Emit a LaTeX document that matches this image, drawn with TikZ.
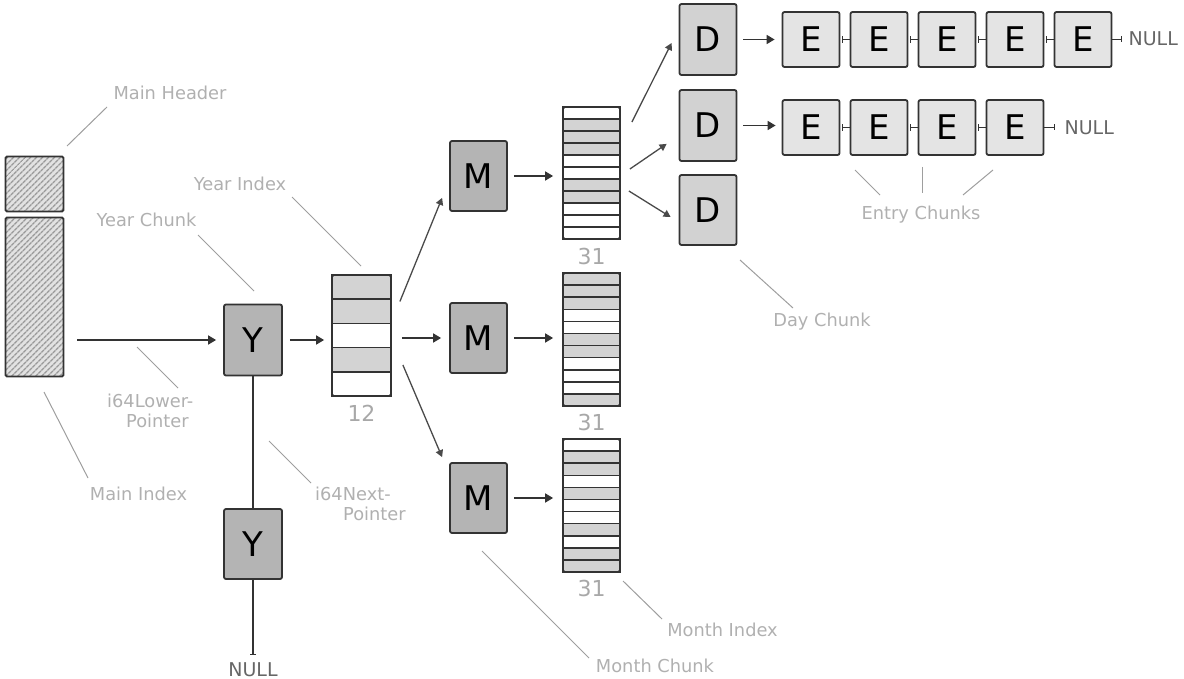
\documentclass[tikz,border=0pt]{standalone}
\usepackage{fontspec}
\setmainfont{DejaVu Sans}
\usetikzlibrary{arrows.meta,patterns.meta,calc}

\definecolor{edge}{HTML}{333333}
\definecolor{ychunk}{HTML}{B4B4B4}
\definecolor{dchunk}{HTML}{D2D2D2}
\definecolor{echunk}{HTML}{E4E4E4}
\definecolor{slot}{HTML}{D3D3D3}
\definecolor{note}{HTML}{B0B0B0}
\definecolor{leader}{HTML}{9E9E9E}
\definecolor{count}{HTML}{A8A8A8}
\definecolor{nulltext}{HTML}{666666}
\definecolor{hatchbg}{HTML}{E2E2E2}
\definecolor{hatchln}{HTML}{999999}
\definecolor{diag}{HTML}{4A4A4A}

% rows of an index block: left x, top y, width, row height, list of fills
\newcommand\slotrows[5]{%
  \foreach \f [count=\i from 0] in {#5} {%
    \draw[rowline, fill=\f] (#1,{#2+\i*#4}) rectangle ++(#3,#4);
  }%
}

\begin{document}
\begin{tikzpicture}[x=1pt,y=-1pt,
  chunk/.style={draw=edge, line width=1.8pt, rounded corners=2pt, inner sep=0pt,
    minimum width=57pt, minimum height=70pt, font=\fontsize{34}{34}\selectfont},
  ybox/.style={chunk, fill=ychunk},
  dbox/.style={chunk, fill=dchunk},
  ebox/.style={chunk, fill=echunk, minimum height=55pt},
  hatch/.style={draw=edge, line width=1.8pt, rounded corners=1.5pt, inner sep=0pt,
    preaction={fill=hatchbg},
    pattern={Lines[angle=45,distance=4pt,line width=1.4pt]}, pattern color=hatchln,
    minimum width=58pt},
  frame/.style={draw=edge, line width=1.8pt, rounded corners=1.5pt, inner sep=0pt},
  rowline/.style={draw=edge, line width=1.5pt},
  arr/.style={draw=edge, line width=1.7pt, -{Triangle[length=8pt,width=9pt]}},
  darr/.style={draw=diag, line width=1.3pt, -{Triangle[length=7pt,width=7.5pt]}},
  plain/.style={draw=edge, line width=1.7pt},
  link/.style={draw=edge, line width=1.5pt, {Bar[width=7pt,line width=1.5pt]}-},
  tonull/.style={draw=edge, line width=1.5pt, -{Bar[width=6pt,line width=1.5pt]}},
  lead/.style={draw=leader, line width=1pt},
  lab/.style={text=note, inner sep=0pt, font=\fontsize{17.8}{20}\selectfont},
  num/.style={text=count, inner sep=0pt, font=\fontsize{22}{22}\selectfont},
  nulllab/.style={text=nulltext, inner sep=0pt, font=\fontsize{19}{19}\selectfont}
]
\useasboundingbox (0,0) rectangle (1184,679);

% main header and main index
\node[hatch, minimum height=55pt] (mh) at (34.5,184) {};
\node[hatch, minimum height=159pt] (mi) at (34.5,297) {};

% year chunks
\node[ybox, minimum width=58pt, minimum height=71pt] (y1) at (253,340) {Y};
\node[ybox, minimum width=58pt, minimum height=70pt] (y2) at (253,544) {Y};

% year index (12)
\slotrows{332}{275}{59}{24.2}{slot,slot,white,slot,white}
\node[frame, minimum width=59pt, minimum height=121pt] (yi) at (361.5,335.5) {};
\node[num] (n12) at (361.5,413) {12};

% month chunks
\node[ybox] (m1) at (478.5,176) {M};
\node[ybox] (m2) at (478.5,338) {M};
\node[ybox] (m3) at (478.5,498) {M};

% month indexes (31)
\slotrows{563}{107}{57}{12}{white,slot,slot,slot,white,white,slot,slot,white,white,white}
\node[frame, minimum width=57pt, minimum height=132pt] (x1) at (591.5,173) {};
\slotrows{563}{273}{57}{12.1}{slot,slot,slot,white,white,slot,slot,white,white,white,slot}
\node[frame, minimum width=57pt, minimum height=133pt] (x2) at (591.5,339.5) {};
\slotrows{563}{439}{57}{12.1}{white,slot,slot,white,slot,white,white,slot,white,slot,slot}
\node[frame, minimum width=57pt, minimum height=133pt] (x3) at (591.5,505.5) {};
\node[num] (n31a) at (591.5,256) {31};
\node[num] (n31b) at (591.5,422) {31};
\node[num] (n31c) at (591.5,588) {31};

% day chunks
\node[dbox, minimum height=71pt] (d1) at (708,39.5) {D};
\node[dbox, minimum height=71pt] (d2) at (708,125.5) {D};
\node[dbox] (d3) at (708,210) {D};

% entry chunks
\foreach \k/\x in {1/811,2/879,3/947,4/1015,5/1083} {
  \node[ebox] (ea\k) at (\x,39.5) {E};
}
\foreach \k/\x in {1/811,2/879,3/947,4/1015} {
  \node[ebox] (eb\k) at (\x,127.5) {E};
}

% pointers
\draw[arr, shorten <=13pt, shorten >=7pt] (mi.east |- y1.west) -- (y1.west);
\draw[arr, shorten <=7pt, shorten >=7pt] (y1.east) -- (y1.east -| yi.west);
\draw[plain] (y1) -- (y2);
\coordinate (ynull) at (253,655);
\draw[tonull] (y2) -- (ynull);
\node[nulllab, anchor=north] (yn) at ($(ynull)+(0,7)$) {NULL};

\draw[darr] ($(yi.east)+(8,-34)$) -- ($(m1.south west)+(-7,-14)$);
\draw[arr, shorten <=10pt, shorten >=8pt] (yi.east |- m2.west) -- (m2.west);
\draw[darr] ($(yi.east)+(11,29.5)$) -- ($(m3.north west)+(-7,-5)$);

\draw[arr, shorten <=6pt, shorten >=9pt] (m1.east) -- (m1.east -| x1.west);
\draw[arr, shorten <=6pt, shorten >=9pt] (m2.east) -- (m2.east -| x2.west);
\draw[arr, shorten <=6pt, shorten >=9pt] (m3.east) -- (m3.east -| x3.west);

\draw[darr] ($(x1.east)+(11,-51)$) -- ($(d1.west)+(-7,3.5)$);
\draw[darr] ($(x1.east)+(9,-4)$) -- ($(d2.south west)+(-12,-18)$);
\draw[darr] ($(x1.east)+(8,18)$) -- ($(d3.west)+(-8,7)$);

\draw[arr, shorten <=6pt, shorten >=7pt] (d1.east) -- (d1.east -| ea1.west);
\draw[arr, shorten <=6pt, shorten >=6pt] (d2.east) -- (d2.east -| eb1.west);

\foreach \a/\b in {1/2,2/3,3/4,4/5} {
  \draw[link, shorten <=1.5pt] (ea\a.east) -- (ea\b.west);
}
\foreach \a/\b in {1/2,2/3,3/4} {
  \draw[link, shorten <=1.5pt] (eb\a.east) -- (eb\b.west);
}
\coordinate (nulla) at ($(ea5.east)+(10,0)$);
\coordinate (nullb) at ($(eb4.east)+(11,0)$);
\draw[tonull] (ea5.east) -- (nulla);
\draw[tonull] (eb4.east) -- (nullb);
\node[nulllab, anchor=west] (na) at ($(nulla)+(6,-1)$) {NULL};
\node[nulllab, anchor=west] (nb) at ($(nullb)+(9,0)$) {NULL};

% annotations
\node[lab] (lmh) at (170,93) {Main Header};
\draw[lead] (107,107) -- (67,146);
\node[lab] (lyi) at (240,184) {Year Index};
\draw[lead] (292,197) -- (361,266);
\node[lab] (lyc) at (146.5,220) {Year Chunk};
\draw[lead] (198,235) -- (254,291);
\node[lab, align=left, anchor=north west] (llp) at (107,394) {i64Lower-\\\hspace*{19pt}Pointer};
\draw[lead] (137,347) -- (178,388);
\node[lab] (lmi) at (138.5,494) {Main Index};
\draw[lead] (44,392) -- (88,478);
\node[lab, align=left, anchor=north west] (lnp) at (315,487) {i64Next-\\\hspace*{28pt}Pointer};
\draw[lead] (269,441) -- (311,483);
\node[lab] (lmc) at (655,666) {Month Chunk};
\draw[lead] (482,551) -- (589,658);
\node[lab] (lmx) at (722.5,630) {Month Index};
\draw[lead] (623,581) -- (662,619);
\node[lab] (ldc) at (822,322) {Day Chunk};
\draw[lead] (740,260) -- (793,308);
\node[lab] (lec) at (921,215) {Entry Chunks};
\draw[lead] (855,170) -- (880,195);
\draw[lead] (922,167) -- (922,193);
\draw[lead] (993,170) -- (963,195);
\end{tikzpicture}
\end{document}
